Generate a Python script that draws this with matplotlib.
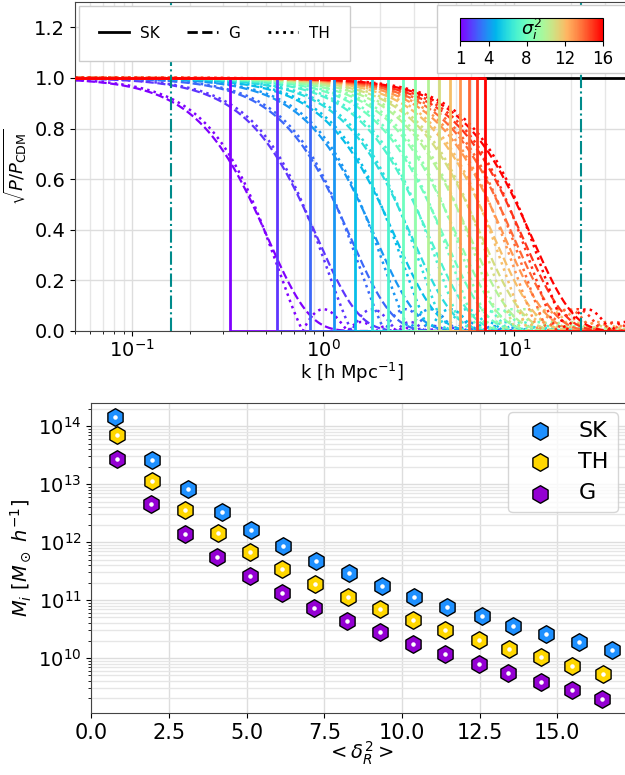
import numpy as np
import matplotlib
matplotlib.use("Agg")
import matplotlib.pyplot as plt
import matplotlib.colors as mcolors
from matplotlib.lines import Line2D
from matplotlib.patches import FancyBboxPatch

# sigma_i^2 index of each filter
sigma2 = np.arange(1, 17)
# sharp-k cutoff wavenumbers [h/Mpc]
k_sk = [0.325, 0.576, 0.850, 1.139, 1.467, 1.816, 2.203, 2.618,
        3.050, 3.538, 4.040, 4.651, 5.248, 5.800, 6.417, 7.093]
# k where the gaussian / top-hat filters drop to 0.5
k_half_g = [0.427, 0.778, 1.163, 1.571, 2.00, 2.445, 3.02, 3.61,
            4.24, 4.95, 5.70, 6.60, 7.50, 8.35, 9.30, 10.4]
k_half_th = [0.435, 0.785, 1.17, 1.58, 2.01, 2.46, 3.04, 3.63,
             4.26, 4.97, 5.72, 6.62, 7.52, 8.38, 9.35, 10.5]
# scales of the two dash-dot lines
k_lines = [0.159, 22.5]

# masses vs <delta_R^2>
x_sk = [0.77, 1.96, 3.12, 4.20, 5.13, 6.17, 7.22, 8.30, 9.36, 10.38,
        11.46, 12.58, 13.58, 14.65, 15.71, 16.75]
logm_sk = [14.16, 13.41, 12.91, 12.52, 12.20, 11.93, 11.67, 11.46, 11.25,
           11.06, 10.88, 10.72, 10.56, 10.41, 10.28, 10.14]
x_th = [0.83, 1.95, 3.03, 4.07, 5.11, 6.15, 7.20, 8.27, 9.28, 10.36,
        11.40, 12.48, 13.43, 14.48, 15.47, 16.47]
logm_th = [13.84, 13.06, 12.55, 12.15, 11.82, 11.53, 11.28, 11.05, 10.84,
           10.66, 10.48, 10.31, 10.15, 10.01, 9.86, 9.72]
x_g = [0.83, 1.93, 3.02, 4.05, 5.10, 6.15, 7.18, 8.24, 9.28, 10.36,
       11.40, 12.48, 13.42, 14.48, 15.46, 16.45]
logm_g = [13.44, 12.66, 12.14, 11.75, 11.41, 11.12, 10.87, 10.64, 10.45,
          10.24, 10.06, 9.90, 9.74, 9.58, 9.44, 9.30]


def w_gauss(k, r):
    return np.exp(-(k * r) ** 2 / 2)


def w_tophat(k, r):
    x = k * r
    return np.abs(3 * (np.sin(x) - x * np.cos(x)) / x ** 3)


fig = plt.figure(figsize=(6.25, 7.75), dpi=100)
W, H = 625, 775
ax1 = fig.add_axes([75 / W, (H - 331) / H, (628.5 - 75) / W, 329 / H])
ax2 = fig.add_axes([91.3 / W, (H - 713) / H, (628.5 - 91.3) / W, 310 / H])

cmap = plt.cm.rainbow
norm = mcolors.Normalize(vmin=1, vmax=16)
k = np.logspace(np.log10(0.05), np.log10(40), 1500)

ax1.axhline(1, color="k", lw=2, zorder=1)
for i, s in enumerate(sigma2):
    c = cmap(norm(s))
    ks = k_sk[i]
    ax1.plot([0.05, ks, ks, 40], [1, 1, 0, 0], color=c, lw=2, zorder=3)
    rg = np.sqrt(2 * np.log(2)) / k_half_g[i]
    rt = 2.4987 / k_half_th[i]
    ax1.plot(k, w_gauss(k, rg), "--", color=c, lw=1.6, zorder=2)
    ax1.plot(k, w_tophat(k, rt), ":", color=c, lw=1.8, zorder=2)

for kl in k_lines:
    ax1.axvline(kl, color="darkcyan", ls="-.", lw=1.5, zorder=4)

ax1.set_xscale("log")
ax1.set_xlim(0.05, 40)
ax1.set_ylim(0, 1.3)
ax1.set_yticks([0, 0.2, 0.4, 0.6, 0.8, 1.0, 1.2])
ax1.grid(True, which="major", color="#dddddd", lw=1)
ax1.grid(True, which="minor", axis="x", color="#e6e6e6", lw=1)
ax1.set_axisbelow(True)
ax1.tick_params(labelsize=14)
ax1.tick_params(axis="x", pad=2)
ax1.set_xlabel(r"k [h Mpc$^{-1}$]", fontsize=13, labelpad=0)
ax1.set_ylabel(r"$\sqrt{P/P_{\rm CDM}}$", fontsize=13)
ax1.spines["right"].set_visible(False)
for sp in ax1.spines.values():
    sp.set_color("#444444")

handles = [Line2D([], [], color="k", ls="-", lw=2),
           Line2D([], [], color="k", ls="--", lw=2),
           Line2D([], [], color="k", ls=":", lw=2)]
leg = ax1.legend(handles, ["SK", "G", "TH"], loc="upper left", ncol=3,
                 fontsize=11, borderpad=1.3, handlelength=2.0,
                 handletextpad=0.7, columnspacing=1.8, borderaxespad=0.25,
                 fancybox=False, framealpha=1, edgecolor="#cccccc")

# colour bar in a white box
box = FancyBboxPatch((0.654, 0.785), 0.36, 0.206, boxstyle="square,pad=0",
                     transform=ax1.transAxes, facecolor="white",
                     edgecolor="#cccccc", lw=1, zorder=5, clip_on=False)
ax1.add_patch(box)
cax = ax1.inset_axes([0.6956, 0.8824, 0.2578, 0.068])
cax.set_zorder(6)
sm = plt.cm.ScalarMappable(norm=norm, cmap=cmap)
cb = fig.colorbar(sm, cax=cax, orientation="horizontal", ticks=[1, 4, 8, 12, 16])
cb.ax.tick_params(labelsize=12)
cax.text(0.5, 0.5, r"$\sigma_i^2$", transform=cax.transAxes, ha="center",
         va="center", fontsize=13)

# masses
ax2.scatter(x_sk, 10 ** np.array(logm_sk), marker="h", s=160, c="dodgerblue",
            edgecolors="k", lw=1, zorder=3, label="SK")
ax2.scatter(x_th, 10 ** np.array(logm_th), marker="h", s=160, c="gold",
            edgecolors="k", lw=1, zorder=3, label="TH")
ax2.scatter(x_g, 10 ** np.array(logm_g), marker="h", s=160, c="darkviolet",
            edgecolors="k", lw=1, zorder=3, label="G")
for xs, ms in [(x_sk, logm_sk), (x_th, logm_th), (x_g, logm_g)]:
    ax2.scatter(xs, 10 ** np.array(ms), marker="o", s=5, c="white", zorder=4)

ax2.set_yscale("log")
ax2.set_xlim(0, 17.29)
ax2.set_xticks(np.arange(0, 17.5, 2.5))
ax2.set_ylim(10 ** 9.05, 10 ** 14.4)
ax2.grid(True, which="major", color="#dddddd", lw=1)
ax2.grid(True, which="minor", axis="y", color="#e6e6e6", lw=1)
ax2.set_axisbelow(True)
ax2.tick_params(labelsize=15)
ax2.tick_params(axis="y", labelsize=14)
ax2.set_xlabel(r"$<\delta_R^2>$", fontsize=14, labelpad=-2)
ax2.set_ylabel(r"$M_i\ [M_\odot\ h^{-1}]$", fontsize=14)
ax2.spines["right"].set_visible(False)
for sp in ax2.spines.values():
    sp.set_color("#444444")
ax2.legend(loc="upper right", fontsize=16, bbox_to_anchor=(0.98, 0.97),
           borderaxespad=0, handletextpad=0.75)

fig.savefig("out.png", dpi=100)
